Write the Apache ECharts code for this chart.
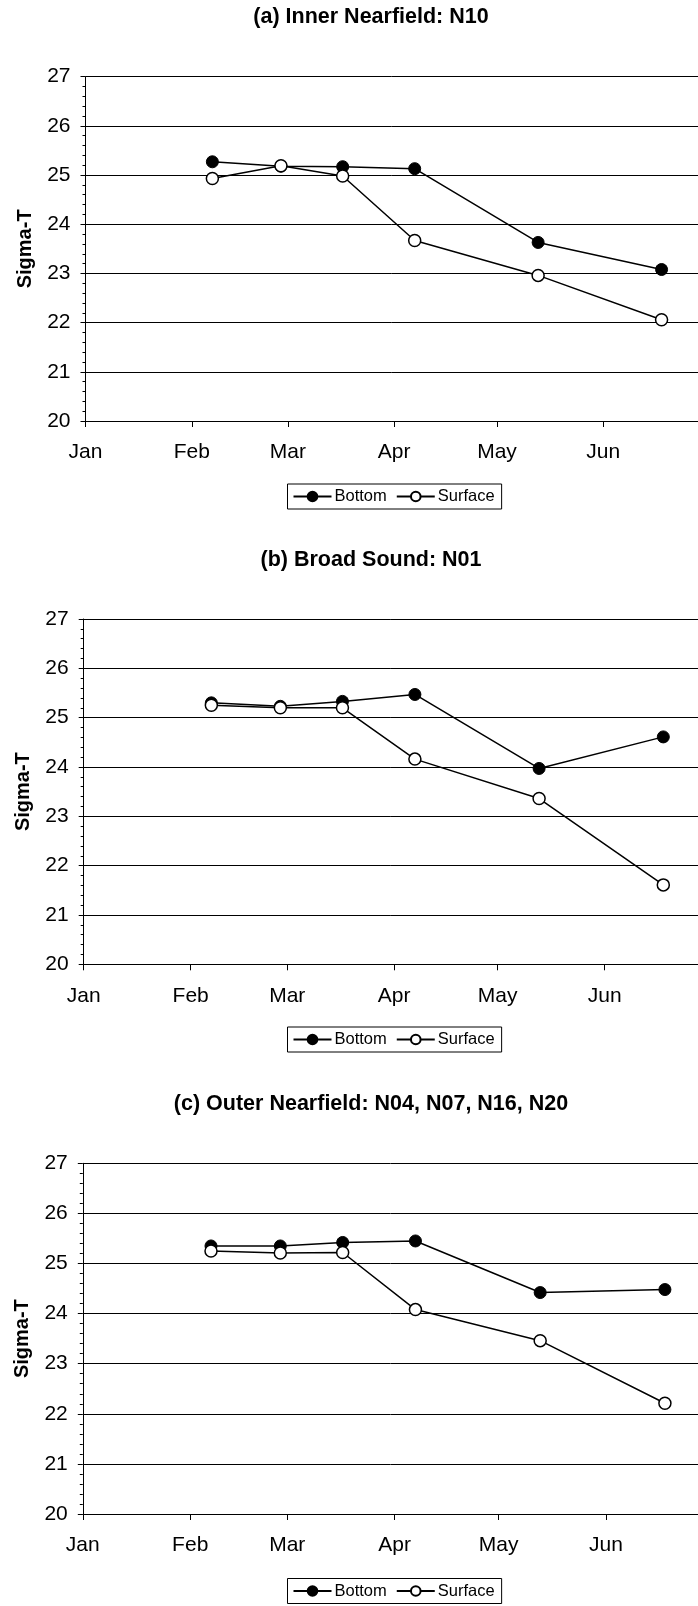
<!DOCTYPE html>
<html>
<head>
<meta charset="utf-8">
<script src="https://cdn.jsdelivr.net/npm/echarts@6/dist/echarts.min.js"></script>
<style>
html,body{margin:0;padding:0;background:#fff;}
#chart{width:698px;height:1606px;}
</style>
</head>
<body>
<div id="chart"></div>
<script>
// ---- data ----
const sampleDates = ['2001-02-07', '2001-02-27', '2001-03-17', '2001-04-07', '2001-05-13', '2001-06-18'];
const monthLabels = ['Jan', 'Feb', 'Mar', 'Apr', 'May', 'Jun'];
const monthStarts = ['2001-01-01', '2001-02-01', '2001-03-01', '2001-04-01', '2001-05-01', '2001-06-01'];
const yTicks = [20, 21, 22, 23, 24, 25, 26, 27];
const panelTitles = ['(a) Inner Nearfield: N10', '(b) Broad Sound: N01', '(c) Outer Nearfield: N04, N07, N16, N20'];
const seriesNames = ['Bottom', 'Surface'];
const bottomN10 = [25.27, 25.18, 25.17, 25.13, 23.63, 23.08];
const surfaceN10 = [24.93, 25.19, 24.98, 23.67, 22.96, 22.06];
const bottomN01 = [25.30, 25.23, 25.33, 25.47, 23.97, 24.61];
const surfaceN01 = [25.25, 25.20, 25.20, 24.16, 23.36, 21.61];
const bottomOuter = [25.35, 25.35, 25.42, 25.45, 24.42, 24.48];
const surfaceOuter = [25.25, 25.21, 25.22, 24.08, 23.46, 22.21];

// ---- helpers ----
function doy(s) {
  const p = s.split('-').map(Number);
  return (Date.UTC(p[0], p[1] - 1, p[2]) - Date.UTC(p[0], 0, 1)) / 86400000;
}
const tickDays = monthStarts.map(doy);
const xDays = sampleDates.map(doy);
const panelData = [[bottomN10, surfaceN10], [bottomN01, surfaceN01], [bottomOuter, surfaceOuter]];

// layout (pixels)
const W = 698;
const layout = [
  { left: 85.5, top: 76.7, height: 344.3, pxDay: 3.429, titleTop: 6, legendTop: 484 },
  { left: 83.7, top: 619, height: 345.3, pxDay: 3.45, titleTop: 549, legendTop: 1027 },
  { left: 82.8, top: 1163.3, height: 350.7, pxDay: 3.465, titleTop: 1093.5, legendTop: 1578.5 }
];
const FONT = 'Liberation Sans, Arial, sans-serif';

const option = {
  backgroundColor: '#fff',
  animation: false,
  title: [], legend: [], grid: [], xAxis: [], yAxis: [], series: []
};

layout.forEach((L, i) => {
  const plotW = W - L.left;
  option.title.push({
    text: panelTitles[i], left: 371, top: L.titleTop, textAlign: 'center', padding: 0,
    textStyle: { fontFamily: FONT, fontWeight: 'bold', fontSize: 21.5, color: '#000' }
  });
  option.grid.push({ left: L.left, top: L.top, height: L.height, width: plotW, containLabel: false });
  option.xAxis.push({
    type: 'value', gridIndex: i, min: 0, max: plotW / L.pxDay,
    axisLine: { show: true, lineStyle: { color: '#000', width: 1 } },
    axisTick: { show: true, customValues: tickDays, length: 6, lineStyle: { color: '#000' } },
    axisLabel: {
      customValues: tickDays, margin: 21, fontFamily: FONT, fontSize: 21, color: '#000',
      formatter: v => monthLabels[tickDays.indexOf(v)] || ''
    },
    splitLine: { show: false }
  });
  option.yAxis.push({
    type: 'value', gridIndex: i, min: yTicks[0], max: yTicks[yTicks.length - 1], interval: 1,
    name: 'Sigma-T', nameLocation: 'middle', nameGap: 50,
    nameTextStyle: { fontFamily: FONT, fontWeight: 'bold', fontSize: 20, color: '#000' },
    axisLine: { show: true, lineStyle: { color: '#000', width: 1 } },
    axisTick: { show: true, length: 5, lineStyle: { color: '#000' } },
    minorTick: { show: true, splitNumber: 5, length: 3, lineStyle: { color: '#000' } },
    axisLabel: { margin: 15, fontFamily: FONT, fontSize: 21, color: '#000' },
    splitLine: { show: true, lineStyle: { color: '#000', width: 1 } }
  });
  option.legend.push({
    left: 287.5, top: L.legendTop, orient: 'horizontal',
    data: seriesNames,
    itemWidth: 38, itemHeight: 12, itemGap: 9,
    padding: [4, 7, 4, 5],
    borderColor: '#000', borderWidth: 1, backgroundColor: '#fff',
    textStyle: { fontFamily: FONT, fontSize: 16.5, color: '#000', padding: [0, 0, 0, -2] },
    selectedMode: false
  });
  const [bot, sur] = panelData[i];
  option.series.push({
    name: seriesNames[0], type: 'line', xAxisIndex: i, yAxisIndex: i,
    data: xDays.map((d, k) => [d, bot[k]]),
    symbol: 'circle', symbolSize: 12,
    lineStyle: { color: '#000', width: 1.5 },
    itemStyle: { color: '#000', borderColor: '#000', borderWidth: 1 }
  });
  option.series.push({
    name: seriesNames[1], type: 'line', xAxisIndex: i, yAxisIndex: i,
    data: xDays.map((d, k) => [d, sur[k]]),
    symbol: 'circle', symbolSize: 12,
    lineStyle: { color: '#000', width: 1.5 },
    itemStyle: { color: '#fff', borderColor: '#000', borderWidth: 1.5 }
  });
});

const chart = echarts.init(document.getElementById('chart'), null, { renderer: 'canvas' });
chart.setOption(option);
</script>
</body>
</html>
